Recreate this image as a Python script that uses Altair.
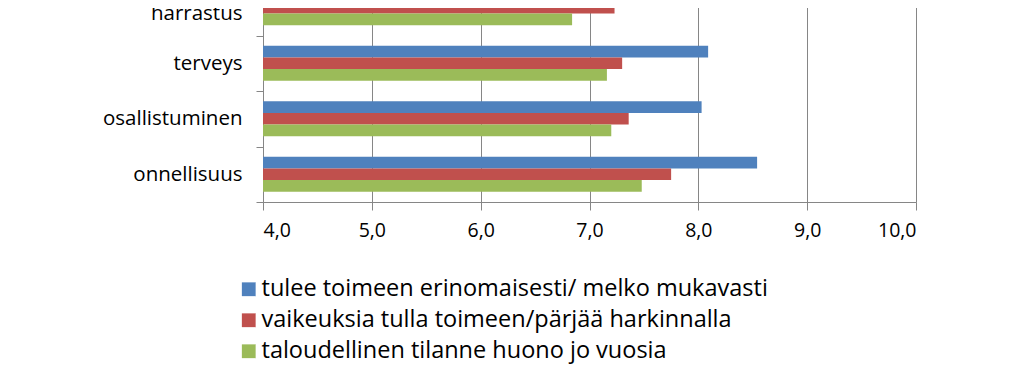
import altair as alt
import pandas as pd

categories = ["harrastus", "terveys", "osallistuminen", "onnellisuus"]
series = [
    "tulee toimeen erinomaisesti/ melko mukavasti",
    "vaikeuksia tulla toimeen/pärjää harkinnalla",
    "taloudellinen tilanne huono jo vuosia",
]
blue_values = [8.40, 8.09, 8.03, 8.54]
red_values = [7.23, 7.30, 7.36, 7.75]
green_values = [6.84, 7.16, 7.20, 7.48]
x_ticks = [4, 5, 6, 7, 8, 9, 10]
colors = ["#4F81BD", "#C0504D", "#9BBB59"]

rows = []
for vals, s in zip([blue_values, red_values, green_values], series):
    for c, v in zip(categories, vals):
        rows.append({"kategoria": c, "sarja": s, "arvo": v})
df = pd.DataFrame(rows)

FONT = "Open Sans"
GRAY = "#868686"

chart = alt.Chart(df).mark_bar(strokeWidth=0).encode(
    y=alt.Y(
        "kategoria:N",
        sort=categories,
        scale=alt.Scale(paddingInner=0, paddingOuter=0),
        axis=alt.Axis(
            title=None,
            tickBand="extent",
            domainColor=GRAY,
            tickColor=GRAY,
            tickSize=7,
            labelPadding=14,
            labelFontSize=20.5,
            labelFont=FONT,
            labelColor="#000000",
            labelOffset={"condition": {"test": "datum.value === 'harrastus'", "value": 6}, "value": 0},
            grid=False,
        ),
    ),
    yOffset=alt.YOffset(
        "sarja:N",
        sort=series,
        scale=alt.Scale(paddingInner=0, paddingOuter=0.88),
    ),
    x=alt.X(
        "arvo:Q",
        scale=alt.Scale(domain=[4, 10], nice=False, zero=False),
        axis=alt.Axis(
            title=None,
            values=x_ticks,
            labelExpr="replace(format(datum.value, '.1f'), '.', ',')",
            domainColor=GRAY,
            tickColor=GRAY,
            tickSize=8,
            labelPadding=11,
            labelFontSize=19.5,
            labelFont=FONT,
            labelColor="#000000",
            grid=True,
            gridColor=GRAY,
            gridOpacity=1,
        ),
    ),
    x2=alt.X2(datum=4),
    color=alt.Color(
        "sarja:N",
        sort=series,
        scale=alt.Scale(domain=series, range=colors),
        legend=alt.Legend(
            title=None,
            orient="none",
            legendX=-26,
            legendY=297.5,
            direction="vertical",
            symbolType="square",
            symbolSize=190,
            symbolStrokeWidth=0,
            labelFontSize=23.5,
            labelFont=FONT,
            labelColor="#000000",
            labelLimit=0,
            rowPadding=6,
            labelOffset=1,
        ),
    ),
).properties(
    width=653,
    height=222,
    autosize=alt.AutoSizeParams(type="none"),
    padding={"left": 255, "top": -28, "right": 40, "bottom": 170},
).configure_view(stroke=None).configure(background="white")

chart.save("out.html", embed_options={"renderer": "svg", "actions": False})
